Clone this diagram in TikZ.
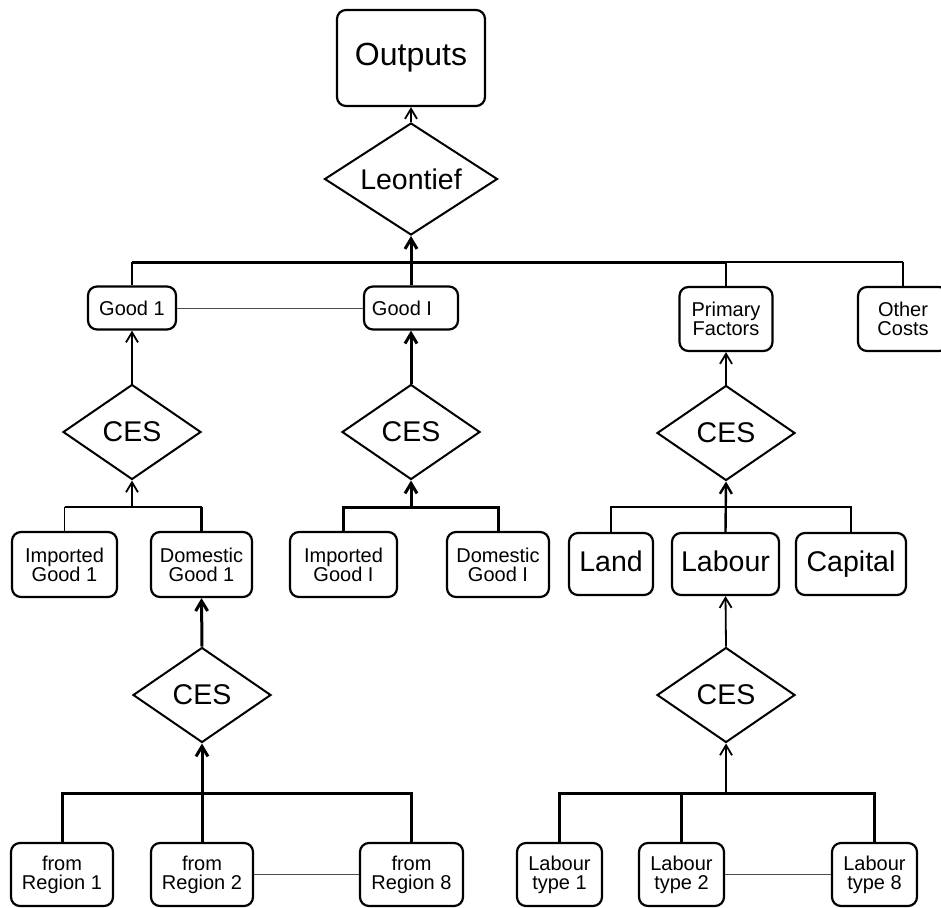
\documentclass[tikz,border=0pt]{standalone}
\usepackage{fontspec}
\setmainfont{Liberation Sans}
\usetikzlibrary{shapes.geometric,arrows.meta}

\newcommand{\smalltxt}{\fontsize{20}{19}\selectfont}
\newcommand{\bigtxt}{\fontsize{28.5}{30}\selectfont}

\tikzset{
  box/.style={draw, line width=2.2pt, rounded corners=9pt, inner sep=0pt, align=center, font=\smalltxt},
  bigbox/.style={box, font=\bigtxt, text height=21pt, text depth=6pt},
  func/.style={draw, diamond, shape aspect=1.45, line width=2pt, inner sep=0pt, minimum width=138pt, minimum height=95pt, font=\bigtxt},
  thinln/.style={line width=1.8pt},
  midln/.style={line width=2.4pt},
  thickln/.style={line width=3pt},
  link/.style={line width=1pt, black!70},
}

\begin{document}
\begin{tikzpicture}[x=1pt,y=-1pt,>={Straight Barb[length=10pt,width=12pt]}]
	\useasboundingbox (0,0) rectangle (941,907);
%	\draw [help lines, step=50] (0,0) grid (941,907);
	\coordinate (busA) at (0,262);
	\coordinate (busB) at (0,507);
	\coordinate (busC) at (0,793);

	\node [bigbox, minimum width=148pt, minimum height=96pt, font=\fontsize{32}{34}\selectfont] (outputs) at (411,58) {Outputs};
	\node [func, shape aspect=1.54, minimum width=173pt, minimum height=112pt] (leont) at (411,179) {Leontief};

	\node [box, minimum width=88pt, minimum height=43pt] (good1) at (132,308) {Good 1};
	\node [box, minimum width=94pt, minimum height=43pt] (goodI) at (411,308) {Good I\hspace{18pt}};
	\node [box, minimum width=93pt, minimum height=64pt] (prim) at (726,319) {Primary\\Factors};
	\node [box, minimum width=90pt, minimum height=64pt] (other) at (903,319) {Other\\Costs};

	\node [func] (cesA) at (132,432) {CES};
	\node [func] (cesB) at (411,432) {CES};
	\node [func] (cesC) at (726,433) {CES};

	\node [box, minimum width=105pt, minimum height=65pt] (impA) at (64.5,564.5) {Imported\\Good 1};
	\node [box, minimum width=101pt, minimum height=65pt] (domA) at (201.5,564.5) {Domestic\\Good 1};
	\node [box, minimum width=107pt, minimum height=65pt] (impB) at (343.5,564.5) {Imported\\Good I};
	\node [box, minimum width=102pt, minimum height=65pt] (domB) at (498,564.5) {Domestic\\Good I};
	\node [bigbox, minimum width=84pt, minimum height=62pt] (land) at (611,564) {Land};
	\node [bigbox, minimum width=107pt, minimum height=62pt] (labour) at (725.5,564) {Labour};
	\node [bigbox, minimum width=110pt, minimum height=62pt] (capital) at (851,564) {Capital};

	\node [func] (cesD) at (202,695) {CES};
	\node [func] (cesE) at (726,695) {CES};

	\node [box, minimum width=102pt, minimum height=63pt] (regA) at (62,874.5) {from\\Region 1};
	\node [box, minimum width=102pt, minimum height=63pt] (regB) at (202,874.5) {from\\Region 2};
	\node [box, minimum width=103pt, minimum height=63pt] (regC) at (411.5,874.5) {from\\Region 8};
	\node [box, minimum width=85pt, minimum height=63pt] (labA) at (559.5,874.5) {Labour\\type 1};
	\node [box, minimum width=85pt, minimum height=63pt] (labB) at (681.5,874.5) {Labour\\type 2};
	\node [box, minimum width=85pt, minimum height=63pt] (labC) at (874.5,874.5) {Labour\\type 8};

	% top level
	\draw [thinln, ->] (leont.north) -- (outputs.south);
	\draw [thickln, ->] (goodI.north) -- (leont.south);
	\draw [thickln] (good1.north |- busA) -- (prim.north |- busA);
	\draw [thinln] (prim.north |- busA) -- (other.north |- busA);
	\draw [thinln] (good1.north) -- (good1.north |- busA);
	\draw [thinln] (prim.north) -- (prim.north |- busA);
	\draw [thinln] (other.north) -- (other.north |- busA);
	\draw [link] (good1) -- (goodI);

	% second level
	\draw [thinln, ->] (cesA.north) -- (good1.south);
	\draw [thickln, ->] (cesB.north) -- (goodI.south);
	\draw [thinln, ->] (cesC.north) -- (prim.south);
	\draw [midln] (impA.north |- busB) -- (domA.north |- busB);
	\draw [thinln] (impA.north) -- (impA.north |- busB);
	\draw [thickln] (domA.north) -- (domA.north |- busB);
	\draw [thinln, ->] (cesA.south |- busB) -- (cesA.south);
	\draw [thickln] (impB.north) |- (domB.north |- busB) -- (domB.north);
	\draw [thickln, ->] (cesB.south |- busB) -- (cesB.south);
	\draw [midln] (land.north) |- (capital.north |- busB) -- (capital.north);
	\draw [midln, ->] (labour.north) -- (cesC.south);

	% third level
	\draw [thickln, ->] (cesD.north) -- (domA.south);
	\draw [thickln, ->] (regB.north) -- (cesD.south);
	\draw [thickln] (regA.north) |- (regC.north |- busC) -- (regC.north);
	\draw [link] (regB) -- (regC);
	\draw [thinln, ->] (cesE.north) -- (labour.south);
	\draw [thickln] (labA.north) |- (labC.north |- busC) -- (labC.north);
	\draw [thickln] (labB.north) -- (labB.north |- busC);
	\draw [thinln, ->] (cesE.south |- busC) -- (cesE.south);
	\draw [link] (labB) -- (labC);
\end{tikzpicture}
\end{document}
